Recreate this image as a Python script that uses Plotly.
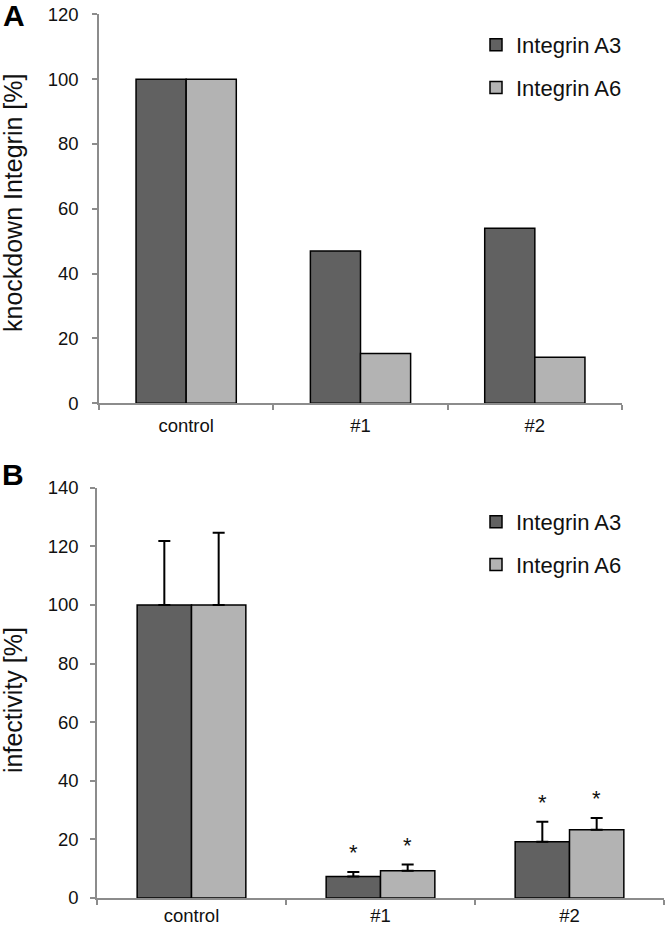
import plotly.graph_objects as go

categories = ["control", "#1", "#2"]
series_names = ["Integrin A3", "Integrin A6"]
knockdown_a3 = [100, 47, 54]
knockdown_a6 = [100, 15.4, 14.2]
infect_a3 = [100, 7.3, 19.2]
infect_a3_err = [21.8, 1.6, 6.8]
infect_a6 = [100, 9.3, 23.3]
infect_a6_err = [24.6, 2.1, 4.0]
signif_a3 = ["", "*", "*"]
signif_a6 = ["", "*", "*"]
yticks_top = [0, 20, 40, 60, 80, 100, 120]
yticks_bottom = [0, 20, 40, 60, 80, 100, 120, 140]

W, H = 666, 928
DARK = "#616161"
LIGHT = "#b3b3b3"
AXIS = "#8c8c8c"
FONT = "Liberation Sans, Arial, sans-serif"

def px(x):
    return x / W

def py(y):
    return 1 - y / H

fig = go.Figure()

fig.add_trace(go.Bar(x=categories, y=knockdown_a3, name=series_names[0],
                     marker=dict(color=DARK, line=dict(color="black", width=1.5)),
                     xaxis="x", yaxis="y", legend="legend"))
fig.add_trace(go.Bar(x=categories, y=knockdown_a6, name=series_names[1],
                     marker=dict(color=LIGHT, line=dict(color="black", width=1.5)),
                     xaxis="x", yaxis="y", legend="legend"))
fig.add_trace(go.Bar(x=categories, y=infect_a3, name=series_names[0],
                     marker=dict(color=DARK, line=dict(color="black", width=1.5)),
                     error_y=dict(type="data", symmetric=False, array=infect_a3_err,
                                  arrayminus=[0] * 3, color="black", thickness=2, width=6),
                     xaxis="x2", yaxis="y2", legend="legend2"))
fig.add_trace(go.Bar(x=categories, y=infect_a6, name=series_names[1],
                     marker=dict(color=LIGHT, line=dict(color="black", width=1.5)),
                     error_y=dict(type="data", symmetric=False, array=infect_a6_err,
                                  arrayminus=[0] * 3, color="black", thickness=2, width=6),
                     xaxis="x2", yaxis="y2", legend="legend2"))

axis_common = dict(showline=True, linecolor=AXIS, linewidth=1.5, ticks="outside",
                   tickcolor=AXIS, tickwidth=1.5, ticklen=5, showgrid=False,
                   zeroline=False, automargin=False,
                   tickfont=dict(family=FONT, size=18.5, color="#111"))

annotations = []
for i, c in enumerate(categories):
    if signif_a3[i]:
        annotations.append(dict(x=c, y=infect_a3[i] + infect_a3_err[i], xref="x2", yref="y2",
                                text=signif_a3[i], showarrow=False, xshift=-27, yshift=5,
                                yanchor="bottom", font=dict(family=FONT, size=22, color="#111")))
    if signif_a6[i]:
        annotations.append(dict(x=c, y=infect_a6[i] + infect_a6_err[i], xref="x2", yref="y2",
                                text=signif_a6[i], showarrow=False, xshift=27, yshift=5,
                                yanchor="bottom", font=dict(family=FONT, size=22, color="#111")))

annotations += [
    dict(x=px(14), y=py(15), xref="paper", yref="paper", text="<b>A</b>", showarrow=False,
         font=dict(family=FONT, size=30, color="black"), xanchor="center", yanchor="middle"),
    dict(x=px(13), y=py(474), xref="paper", yref="paper", text="<b>B</b>", showarrow=False,
         font=dict(family=FONT, size=30, color="black"), xanchor="center", yanchor="middle"),
    dict(x=px(13), y=py(203), xref="paper", yref="paper", text="knockdown Integrin [%]",
         textangle=-90, showarrow=False, font=dict(family=FONT, size=25, color="#111"),
         xanchor="center", yanchor="middle"),
    dict(x=px(13), y=py(700), xref="paper", yref="paper", text="infectivity [%]",
         textangle=-90, showarrow=False, font=dict(family=FONT, size=25, color="#111"),
         xanchor="center", yanchor="middle"),
]

legend_common = dict(font=dict(family=FONT, size=22, color="#111"), bgcolor="rgba(0,0,0,0)",
                     xanchor="left", yanchor="top", tracegroupgap=11)

fig.update_layout(
    width=W, height=H, margin=dict(l=0, r=0, t=0, b=0, autoexpand=False),
    paper_bgcolor="white", plot_bgcolor="white",
    barmode="group", bargap=0.425, bargroupgap=0,
    xaxis=dict(domain=[px(99), px(622)], anchor="y", tickson="boundaries",
               ticklabelstandoff=5, **axis_common),
    yaxis=dict(domain=[py(403.3), py(14.3)], anchor="x", range=[0, 120],
               tickvals=yticks_top, ticklabelstandoff=10, **axis_common),
    xaxis2=dict(domain=[px(97), px(664)], anchor="y2", tickson="boundaries",
                ticklabelstandoff=0, **axis_common),
    yaxis2=dict(domain=[py(898), py(487.7)], anchor="x2", range=[0, 140],
                tickvals=yticks_bottom, ticklabelstandoff=8, **axis_common),
    legend=dict(x=px(476), y=py(24), **legend_common),
    legend2=dict(x=px(476), y=py(501), **legend_common),
    annotations=annotations,
    showlegend=True,
)

for tr in fig.data:
    tr.legendgroup = tr.name + tr.legend

fig.write_html(
    "out.html",
    config={"displayModeBar": False},
    post_script="document.body.style.margin='0';document.body.style.overflow='hidden';",
)
